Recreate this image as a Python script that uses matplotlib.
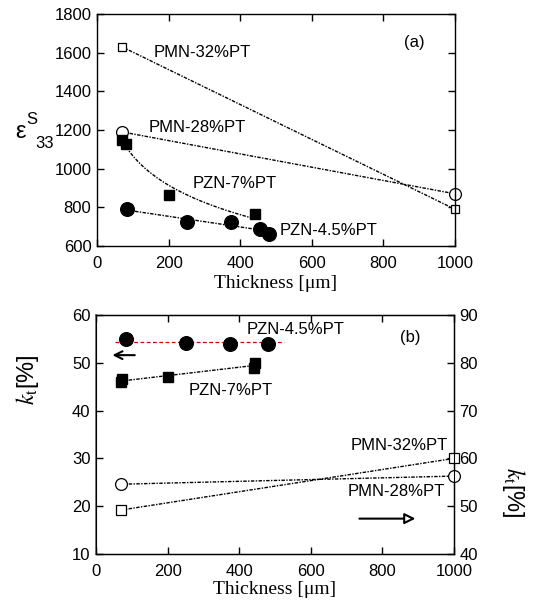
import numpy as np
import matplotlib
matplotlib.use("Agg")
import matplotlib.pyplot as plt

plt.rcParams['font.family'] = ['Liberation Sans', 'DejaVu Sans']
plt.rcParams['mathtext.fontset'] = 'stix'

# ---- Data (a): dielectric constant eps33S vs thickness ----
pmn32_a_x = [70, 1000]
pmn32_a_y = [1630, 790]
pmn28_a_x = [70, 1000]
pmn28_a_y = [1190, 870]
pzn7_a_x = [70, 82, 200, 440]
pzn7_a_y = [1150, 1128, 865, 768]
pzn45_a_x = [85, 250, 375, 455, 480]
pzn45_a_y = [790, 722, 725, 690, 663]

# ---- Data (b): kt [%] vs thickness ----
pzn45_b_x = [85, 250, 375, 480]
pzn45_b_y = [55.0, 54.1, 54.0, 54.0]
pzn7_b_x = [70, 72, 200, 440, 445]
pzn7_b_y = [46.0, 46.6, 47.0, 49.0, 50.0]
pmn32_b_x = [70, 1000]
pmn32_b_y = [49.2, 60.0]   # right axis
pmn28_b_x = [70, 1000]
pmn28_b_y = [54.6, 56.3]   # right axis

W, H = 533, 600
fig = plt.figure(figsize=(W / 100, H / 100), dpi=100)

ls = (0, (2.5, 1, 1, 1))
tickfs = 12
labfs = 12


def style(ax, right=True):
    ax.tick_params(direction='in', length=5, width=1, labelsize=tickfs,
                   top=True, right=right, pad=4)
    ax.tick_params(axis='x', pad=7)
    for s in ax.spines.values():
        s.set_linewidth(1.0)


def fitline(ax, x, y, deg=1, logx=False, **kw):
    x = np.asarray(x, float)
    y = np.asarray(y, float)
    xt = np.log(x) if logx else x
    p = np.polyfit(xt, y, deg)
    xx = np.linspace(x.min(), x.max(), 100)
    xxt = np.log(xx) if logx else xx
    ax.plot(xx, np.polyval(p, xxt), color='black', lw=1.0, linestyle=ls, **kw)


# ================= (a) =================
axa = fig.add_axes([97 / W, 1 - 246 / H, 358 / W, 232 / H])
style(axa)
fitline(axa, pmn32_a_x, pmn32_a_y)
fitline(axa, pmn28_a_x, pmn28_a_y)
fitline(axa, pzn7_a_x, pzn7_a_y, logx=True)
fitline(axa, pzn45_a_x, pzn45_a_y)
axa.plot(pmn32_a_x, pmn32_a_y, 's', ms=6, mfc='white', mec='black', mew=0.9, ls='none', clip_on=False)
axa.plot(pmn28_a_x, pmn28_a_y, 'o', ms=8.5, mfc='white', mec='black', mew=0.9, ls='none', clip_on=False)
axa.plot(pzn7_a_x, pzn7_a_y, 's', ms=7.5, color='black', ls='none')
axa.plot(pzn45_a_x, pzn45_a_y, 'o', ms=9.8, color='black', ls='none')
axa.set_xlim(0, 1000)
axa.set_ylim(600, 1800)
axa.set_xticks(range(0, 1001, 200))
axa.set_yticks(range(600, 1801, 200))
axa.set_xlabel('Thickness [\u03bcm]', family='Liberation Serif', fontsize=14, labelpad=3)
axa.text(159, 1602, 'PMN-32%PT', fontsize=labfs, va='center')
axa.text(143, 1212, 'PMN-28%PT', fontsize=labfs, va='center')
axa.text(268, 921, 'PZN-7%PT', fontsize=labfs, va='center')
axa.text(509, 679, 'PZN-4.5%PT', fontsize=labfs, va='center')
axa.text(858, 1652, '(a)', fontsize=labfs, va='center')

# eps33S label
fig.text(21 / W, 1 - 132 / H, '\u03b5', fontsize=17, ha='center', va='center')
fig.text(32 / W, 1 - 119 / H, 'S', fontsize=12, ha='center', va='center')
fig.text(45 / W, 1 - 144 / H, '33', fontsize=12, ha='center', va='center')

# ================= (b) =================
axb = fig.add_axes([96 / W, 1 - 554 / H, 358 / W, 239 / H])
style(axb, right=False)
axb.spines['left'].set_color('#777777')
axb.spines['left'].set_linewidth(1.4)
axb2 = axb.twinx()
axb2.tick_params(direction='in', length=5, width=1, labelsize=tickfs, pad=4)

# PZN on left axis
kt_mean = np.mean(pzn45_b_y)
axb.plot([min(pzn45_b_x) - 32, max(pzn45_b_x) + 45], [kt_mean, kt_mean],
         color='#cc0000', lw=0.9, ls=(0, (3, 2)))
axb.plot(pzn45_b_x, pzn45_b_y, 'o', ms=9.8, color='black', ls='none')
fitline(axb, pzn7_b_x, pzn7_b_y)
axb.plot(pzn7_b_x, pzn7_b_y, 's', ms=7.5, color='black', ls='none')

# PMN on right axis
fitline(axb2, pmn32_b_x, pmn32_b_y)
fitline(axb2, pmn28_b_x, pmn28_b_y)
axb2.plot(pmn32_b_x, pmn32_b_y, 's', ms=6.5, mfc='white', mec='black', mew=0.9, ls='none', clip_on=False)
axb2.plot(pmn28_b_x, pmn28_b_y, 'o', ms=8.5, mfc='white', mec='black', mew=0.9, ls='none', clip_on=False)

axb.set_xlim(0, 1000)
axb.set_ylim(10, 60)
axb2.set_ylim(40, 90)
axb.set_xticks(range(0, 1001, 200))
axb.set_yticks(range(10, 61, 10))
axb2.set_yticks(range(40, 91, 10))
axb.set_xlabel('Thickness [\u03bcm]', family='Liberation Serif', fontsize=14, labelpad=2)
axb.set_ylabel(r'$k_{\mathrm{t}}$[%]', fontsize=17)
axb.yaxis.set_label_coords(-0.155, 0.73)
axb2.set_ylabel(r'$k_{\mathrm{t}}$[%]', fontsize=17, rotation=270, va='center')
axb2.yaxis.set_label_coords(1.165, 0.26)

axb.text(422, 57.0, 'PZN-4.5%PT', fontsize=labfs, va='center')
axb.text(849, 55.3, '(b)', fontsize=labfs, va='center')
axb.text(260, 44.3, 'PZN-7%PT', fontsize=labfs, va='center')
axb.text(712, 32.8, 'PMN-32%PT', fontsize=labfs, va='center')
axb.text(704, 23.0, 'PMN-28%PT', fontsize=labfs, va='center')

axb.annotate('', xy=(38, 51.6), xytext=(116, 51.6),
             arrowprops=dict(arrowstyle='->', color='black', lw=1.5,
                             mutation_scale=14))
axb.annotate('', xy=(900, 17.4), xytext=(728, 17.4),
             arrowprops=dict(arrowstyle='-|>', fc='white', ec='black', lw=1.5,
                             mutation_scale=16))

fig.savefig('out.png', dpi=100)
